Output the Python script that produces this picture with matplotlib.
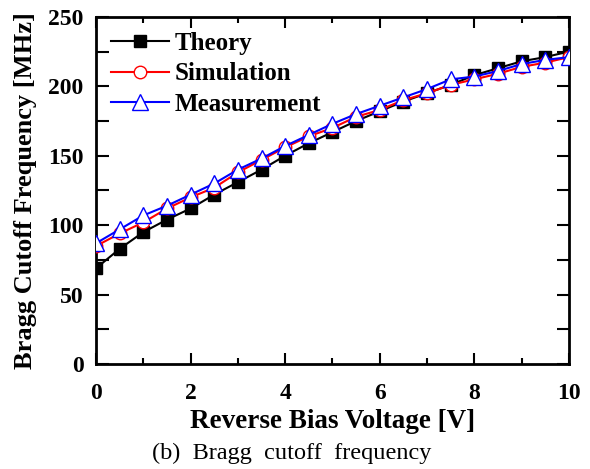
import matplotlib
matplotlib.use("Agg")
import matplotlib.pyplot as plt
from matplotlib.ticker import MultipleLocator

plt.rcParams["font.family"] = ["Liberation Serif", "DejaVu Serif"]

voltage = [0, 0.5, 1, 1.5, 2, 2.5, 3, 3.5, 4, 4.5, 5,
           5.5, 6, 6.5, 7, 7.5, 8, 8.5, 9, 9.5, 10]
theory = [69, 83, 95, 104, 112, 122, 131, 140, 150, 159, 167,
          175, 182, 189, 195, 201, 208, 213, 218, 221, 225]
simulation = [85, 94, 102, 112, 120, 127, 138, 147, 156, 164, 170,
              178, 183, 190, 195, 201, 205, 209, 214, 217, 221]
measurement = [87, 97, 107, 114, 122, 130, 140, 148, 157, 165, 173,
               180, 186, 192, 198, 205, 207, 211, 216, 219, 221]

fig = plt.figure(figsize=(5.9, 4.69), dpi=100)
ax = fig.add_axes([0.163, 0.224, 0.801, 0.740])

ax.plot(voltage, theory, color="black", lw=1.5, marker="s", ms=8,
        mfc="black", mec="black", label="Theory", zorder=3)
ax.plot(voltage, simulation, color="red", lw=1.5, marker="o", ms=9,
        mfc="white", mec="red", mew=1.0, label="Simulation", zorder=4)
ax.plot(voltage, measurement, color="blue", lw=1.5, marker="^", ms=11,
        mfc="white", mec="blue", mew=1.0, label="Measurement", zorder=5)

ax.set_xlim(0, 10)
ax.set_ylim(0, 250)
ax.xaxis.set_major_locator(MultipleLocator(2))
ax.xaxis.set_minor_locator(MultipleLocator(1))
ax.yaxis.set_major_locator(MultipleLocator(50))
ax.yaxis.set_minor_locator(MultipleLocator(25))
ax.tick_params(which="both", direction="in", top=True, right=True, width=1.5)
ax.tick_params(axis="x", which="major", length=8, labelsize=17, pad=14)
ax.tick_params(axis="x", which="minor", length=4)
ax.tick_params(axis="y", which="both", length=9, labelsize=17, pad=9)
for lab in ax.get_xticklabels() + ax.get_yticklabels():
    lab.set_fontweight("bold")
for sp in ax.spines.values():
    sp.set_linewidth(2)

ax.set_xlabel("Reverse Bias Voltage [V]", fontsize=19.5, fontweight="bold", labelpad=3)
ax.set_ylabel("Bragg Cutoff Frequency [MHz]", fontsize=19, fontweight="bold", labelpad=8)

ax.legend(loc="upper left", frameon=False, handlelength=2.3, handletextpad=0.25,
          labelspacing=0.3, borderaxespad=0.1, borderpad=0.5,
          prop={"weight": "bold", "size": 18})

fig.text(0.495, 0.034, "(b)  Bragg  cutoff  frequency", ha="center", va="center", fontsize=17.5)

fig.savefig("out.png", dpi=100)
